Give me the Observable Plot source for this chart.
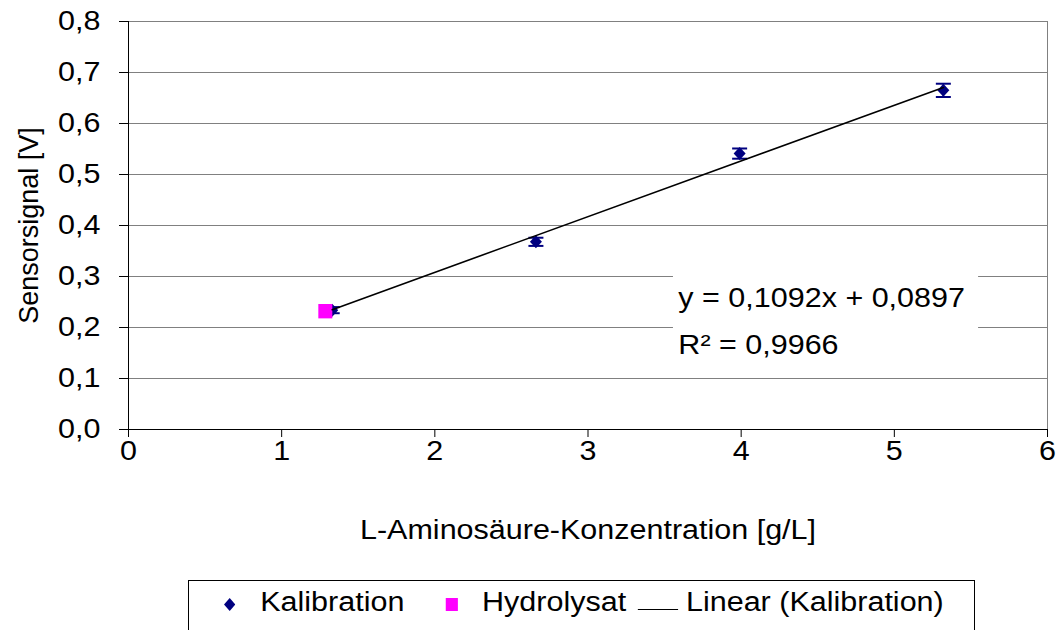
<!DOCTYPE html>
<html>
<head>
<meta charset="utf-8">
<script src="https://cdn.jsdelivr.net/npm/d3@7"></script>
<script src="https://cdn.jsdelivr.net/npm/@observablehq/plot@0.6"></script>
<style>
  html, body { margin: 0; padding: 0; background: #fff; }
  body { width: 1058px; height: 630px; overflow: hidden; position: relative; font-family: "Liberation Sans", Arial, sans-serif; }
  #chart { position: absolute; left: 0; top: 0; }
  #legend { position: absolute; left: 188px; top: 580px; width: 787px; height: 60px; border: 1px solid #000; box-sizing: border-box; background: #fff; overflow: hidden; }
  #legInner { position: absolute; left: 0; top: 0; width: 700px; height: 100%; transform: scaleX(1.13); transform-origin: 0 0; }
  .lg { position: absolute; top: 6px; height: 30px; line-height: 30px; font-size: 27px; color: #000; white-space: nowrap; }
</style>
</head>
<body>
<div id="chart"></div>
<div id="legend"><div id="legInner"></div></div>
<script>
// ---- data ----
const kalX = [1.33, 2.66, 3.99, 5.32];
const kalY = [0.234, 0.368, 0.541, 0.665];
const kalErr = [0.006, 0.008, 0.010, 0.013];
const hydX = [1.285];
const hydY = [0.232];
const trendX = [1.33, 5.32];
const trendY = [0.235, 0.6706];
const xTicks = [0, 1, 2, 3, 4, 5, 6];
const yTicks = [0.0, 0.1, 0.2, 0.3, 0.4, 0.5, 0.6, 0.7, 0.8];
const eqLines = ["y = 0,1092x + 0,0897", "R² = 0,9966"];
const eqX = [3.59, 3.59];
const eqY = [0.2567, 0.165];
const eqBoxX = [3.558, 5.55];
const eqBoxY = [0.12, 0.308];
const xTitle = "L-Aminosäure-Konzentration [g/L]";
const yTitle = "Sensorsignal [V]";
const legendLabels = ["Kalibration", "Hydrolysat", "Linear (Kalibration)"];
const kalColor = "#000080";
const hydColor = "#FF00FF";

const kal = kalX.map((x, i) => ({x, y: kalY[i], lo: kalY[i] - kalErr[i], hi: kalY[i] + kalErr[i]}));
const hyd = hydX.map((x, i) => ({x, y: hydY[i]}));
const trend = trendX.map((x, i) => ({x, y: trendY[i]}));
const eq = eqLines.map((t, i) => ({t, x: eqX[i], y: eqY[i]}));

const diamondSym = {draw(ctx) { ctx.moveTo(0, -6.5); ctx.lineTo(6, 0); ctx.lineTo(0, 6.5); ctx.lineTo(-6, 0); ctx.closePath(); }};
const squareSym = {draw(ctx) { ctx.moveTo(-7, -7.2); ctx.lineTo(7, -7.2); ctx.lineTo(7, 7.2); ctx.lineTo(-7, 7.2); ctx.closePath(); }};
const capSym = {draw(ctx) { ctx.moveTo(-7.5, 0); ctx.lineTo(7.5, 0); }};

const FS = 27;
const plot = Plot.plot({
  width: 1058,
  height: 560,
  marginLeft: 128,
  marginRight: 11,
  marginTop: 21,
  marginBottom: 131,
  style: {fontFamily: "Liberation Sans, Arial, sans-serif", fontSize: FS + "px", color: "#000", background: "#fff", overflow: "visible"},
  x: {domain: [0, 6], label: null},
  y: {domain: [0, 0.8], label: null},
  marks: [
    Plot.ruleY(yTicks.slice(1), {stroke: "#808080", strokeWidth: 1}),
    Plot.ruleX([6], {y1: 0, y2: 0.8, stroke: "#808080", strokeWidth: 1}),
    Plot.rect([0], {x1: eqBoxX[0], x2: eqBoxX[1], y1: eqBoxY[0], y2: eqBoxY[1], fill: "#fff"}),
    Plot.axisX({ticks: xTicks, tickSize: 8, tickPadding: 3, fontSize: FS, tickFormat: d => String(d), label: null, stroke: "#000"}),
    Plot.axisY({ticks: yTicks, tickSize: 9, tickPadding: 19, fontSize: FS, tickFormat: d => d.toFixed(1).replace(".", ","), label: null, stroke: "#000"}),
    Plot.ruleY([0], {stroke: "#000", strokeWidth: 1}),
    Plot.ruleX([0], {y1: 0, y2: 0.8, stroke: "#000", strokeWidth: 1}),
    Plot.ruleX(kal, {x: "x", y1: "lo", y2: "hi", stroke: kalColor, strokeWidth: 1.5}),
    Plot.dot(kal, {x: "x", y: "hi", symbol: capSym, stroke: kalColor, strokeWidth: 2, fill: "none"}),
    Plot.dot(kal, {x: "x", y: "lo", symbol: capSym, stroke: kalColor, strokeWidth: 2, fill: "none"}),
    Plot.dot(kal, {x: "x", y: "y", symbol: diamondSym, fill: kalColor, stroke: "none"}),
    Plot.dot(hyd, {x: "x", y: "y", symbol: squareSym, fill: hydColor, stroke: "none"}),
    Plot.line(trend, {x: "x", y: "y", stroke: "#000", strokeWidth: 1.6}),
    Plot.text(eq, {x: "x", y: "y", text: "t", textAnchor: "start", fontSize: FS, fill: "#000"}),
    Plot.text([xTitle], {frameAnchor: "bottom", textAnchor: "middle", dy: 109, lineAnchor: "bottom", fontSize: FS, fill: "#000"}),
    Plot.text([yTitle], {frameAnchor: "left", textAnchor: "middle", dx: -110, rotate: -90, lineAnchor: "top", fontSize: FS, fill: "#000"})
  ]
});
document.getElementById("chart").appendChild(plot);

// horizontal stretch of the reference's lettering
const SX = 1.13;
plot.querySelectorAll("text").forEach(t => {
  const tr = t.getAttribute("transform") || "";
  if (tr.includes("rotate")) return;
  const b = t.getBBox();
  const anchor = getComputedStyle(t).textAnchor;
  const ax = anchor === "middle" ? b.x + b.width / 2 : anchor === "end" ? b.x + b.width : b.x;
  t.setAttribute("transform", `${tr} translate(${ax} 0) scale(${SX} 1) translate(${-ax} 0)`.trim());
});

// legend (positions in the unstretched space of #legInner)
const inner = document.getElementById("legInner");
function add(html, left, extra) {
  const d = document.createElement("div");
  d.className = "lg";
  d.style.left = left + "px";
  if (extra) Object.assign(d.style, extra);
  d.innerHTML = html;
  inner.appendChild(d);
  return d;
}
add(`<svg width="10" height="13"><polygon points="5,0 10,6.5 5,13 0,6.5" fill="${kalColor}"/></svg>`, 31, {top: "15px", height: "13px", lineHeight: "13px"});
add(legendLabels[0], 63);
add(`<svg width="11" height="13"><rect width="11" height="13" fill="${hydColor}"/></svg>`, 226.5, {top: "15px", height: "13px", lineHeight: "13px"});
add(legendLabels[1], 259.3);
add(`<svg width="36" height="3"><line x1="0" x2="36" y1="1.5" y2="1.5" stroke="#000" stroke-width="1.2"/></svg>`, 397.3, {top: "20px", height: "3px", lineHeight: "3px"});
add(legendLabels[2], 439.8);
</script>
</body>
</html>
